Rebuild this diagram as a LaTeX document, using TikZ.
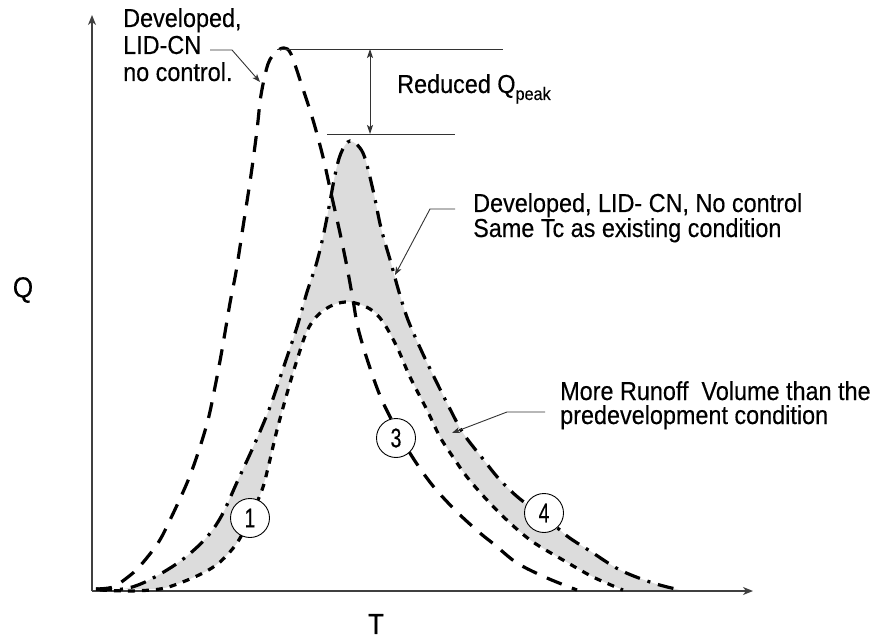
\documentclass[tikz,border=0pt]{standalone}
\usepackage{fontspec}
\usepackage{graphicx}
\setmainfont[FakeStretch=0.9,FakeBold=0.3]{Liberation Sans}
\usetikzlibrary{arrows.meta}
\definecolor{shadegray}{RGB}{220,220,220}
\tikzset{
  curveA/.style={line width=3.2pt, dash pattern=on 16pt off 11pt},
  curveB/.style={line width=3.2pt, dash pattern=on 16pt off 8pt on 3pt off 8pt},
  curveC/.style={line width=3.2pt, dash pattern=on 7pt off 7pt},
  axisline/.style={line width=1.4pt, draw=black!75, -{Stealth[length=10pt,width=8pt,inset=3pt]}},
  leader/.style={line width=0.9pt, draw=black!80},
  tip/.style={-{Stealth[length=8pt,width=6pt,inset=2pt]}},
  lbl/.style={font=\fontsize{26}{28}\selectfont, inner sep=0pt, anchor=base west},
  axlbl/.style={font=\fontsize{29}{29}\selectfont, inner sep=0pt},
  num/.style={circle, draw, fill=white, line width=0.9pt, minimum size=39pt, inner sep=0pt, font=\fontsize{27}{27}\selectfont},
}
\newcommand\curvApath[1]{\path[#1] plot[smooth,tension=0.55] coordinates {
 (96,589) (113,587) (128,577) (140,566) (158,543) (170,520) (187,483) (198,453) (208,420) (215,387)
 (222,350) (230,303) (236,272) (243,227) (251,175) (257,130) (261,95) (268,64) (276,52) (284,48)
 (291,54) (302,86) (313,120) (323,157) (331,193) (340,233) (347,267) (353,300) (358,328) (368,362)
 (381,398) (398,432) (413,458) (433,486) (457,512) (480,533) (495,545) (517,563) (547,578) (577,590)};}
\newcommand\curvBpath[1]{\path[#1] plot[smooth,tension=0.55] coordinates {
 (96,589) (123,589) (143,583) (167,570) (187,556) (207,537) (222,515) (238,480) (255,443) (270,407)
 (285,363) (297,327) (307,292) (316,265) (323,237) (329,207) (335,175) (341,153) (350,141) (363,153)
 (373,190) (381,228) (391,263) (399,292) (408,320) (422,352) (436,381) (449,407) (463,433) (483,459)
 (500,480) (520,499) (544,516) (567,536) (590,551) (620,570) (653,583) (680,590)};}
\newcommand\curvCpath[1]{\path[#1] plot[smooth,tension=0.55] coordinates {
 (100,590) (130,591) (160,589) (180,583) (203,573) (220,562) (237,543) (250,518) (262,490) (268,468)
 (277,430) (288,390) (297,360) (307,331) (318,315) (333,305) (350,302) (370,309) (383,322) (397,347)
 (410,377) (427,410) (440,437) (453,457) (467,477) (487,500) (510,523) (533,542) (563,560) (593,577) (623,590)};}
\begin{document}
\begin{tikzpicture}[x=1pt,y=-1pt]
\useasboundingbox (0,0) rectangle (881,639);
% shaded band
\curvBpath{fill=shadegray}
\curvCpath{fill=white}
% axes
\coordinate (O) at (92,591);
\coordinate (Ytop) at (92,15);
\coordinate (Xend) at (753,591);
\draw[axisline] (O) -- (Ytop);
\draw[axisline] (O) -- (Xend);
\node[axlbl] (qlab) at (23,290) {Q};
\node[axlbl] (tlab) at (376,624) {T};
% curves
\curvApath{draw, curveA}
\curvCpath{draw, curveC}
\curvBpath{draw, curveB}
% peak lines
\coordinate (pA) at (277,49); \coordinate (pAe) at (503,49);
\coordinate (pB) at (327,134); \coordinate (pBe) at (455,134);
\coordinate (dA) at (370,49); \coordinate (dB) at (370,134);
\draw[leader] (pA) -- (pAe);
\draw[leader] (pB) -- (pBe);
\draw[leader, {Stealth[length=9pt,width=6pt,inset=2pt]}-{Stealth[length=9pt,width=6pt,inset=2pt]}] (dA) -- (dB);
% leaders
\coordinate (l1s) at (210,50); \coordinate (l1m) at (232,50); \coordinate (tipA) at (260,82);
\coordinate (l2s) at (455,209); \coordinate (l2m) at (430,209); \coordinate (tipB) at (395,275);
\coordinate (l3s) at (545,412); \coordinate (l3m) at (507,412); \coordinate (tipC) at (452,433);
\draw[leader, tip] (l1s) -- (l1m) -- (tipA);
\draw[leader, tip] (l2s) -- (l2m) -- (tipB);
\draw[leader, tip] (l3s) -- (l3m) -- (tipC);
% numbered circles
\node[num] (c1) at (250,518) {\scalebox{0.8}[1]{1}};
\node[num] (c3) at (396,438) {\scalebox{0.8}[1]{3}};
\node[num] (c4) at (544,513) {\scalebox{0.8}[1]{4}};
% labels
\node[lbl] (dev1a) at (123,27) {Developed,};
\node[lbl] (dev1b) at (123,54) {LID-CN};
\node[lbl] (dev1c) at (123,81) {no control.};
\node[lbl] (red) at (397,93) {Reduced Q\raisebox{-7pt}{\fontsize{18}{18}\selectfont peak}};
\node[lbl] (dev2a) at (473,212) {Developed, LID- CN, No control};
\node[lbl] (dev2b) at (473,237) {Same Tc as existing condition};
\node[lbl] (more1) at (560,400) {More Runoff~ Volume than the};
\node[lbl] (more2) at (560,424) {predevelopment condition};
\end{tikzpicture}
\end{document}
